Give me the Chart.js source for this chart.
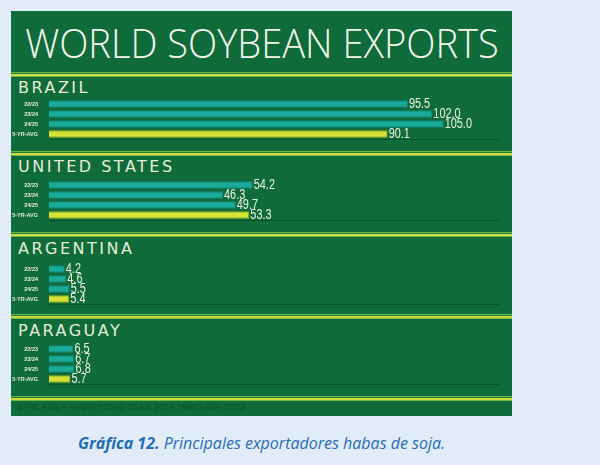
<!DOCTYPE html>
<html lang="en">
<head>
<meta charset="UTF-8">
<title>World Soybean Exports</title>
<script src="https://cdn.jsdelivr.net/npm/chart.js@4.4.0/dist/chart.umd.min.js"></script>
<style>
  body {
    margin: 0;
    width: 600px;
    height: 465px;
    background: #e2ecf8;
    position: relative;
    overflow: hidden;
    font-family: 'DejaVu Sans', sans-serif;
  }
  .panel {
    position: absolute;
    left: 11px; top: 11px;
    width: 501px; height: 405px;
    background: #0f6b3a;
  }
  #title {
    position: absolute;
    left: 262px; top: 16px;
    color: #f4f6ec;
    font-family: 'Open Sans', sans-serif;
    font-size: 41px;
    line-height: 52px;
    font-weight: 300;
    white-space: nowrap;
  }
  .sep {
    position: absolute;
    left: 11px; width: 501px; height: 5px;
    background: linear-gradient(#6cb648 0 1px, #1d7a3a 1px 2px, #cddc3c 2px 4px, #6cb648 4px 5px);
  }
  .country {
    position: absolute;
    left: 18px;
    color: #e6eed8;
    font-size: 16px;
    line-height: 16px;
    letter-spacing: 2.5px;
    white-space: nowrap;
  }
  .note {
    position: absolute;
    left: 18px; top: 402px;
    color: #0a5a2e;
    font: bold 9px 'Liberation Sans', sans-serif;
    white-space: nowrap;
  }
  .caption {
    position: absolute;
    left: 11px; top: 432px;
    width: 501px;
    text-align: center;
    color: #1e6db5;
    font: italic 16px 'Open Sans', sans-serif;
    white-space: nowrap;
  }
  canvas { position: absolute; left: 0; }
</style>
</head>
<body>
  <div class="panel"></div>
  <div id="title">WORLD SOYBEAN EXPORTS</div>
  <div class="note">5-YR AVG = MARKETING YEAR 2019 THROUGH 2023</div>
  <div class="caption"><b>Gráfica 12.</b> Principales exportadores habas de soja.</div>

<script>
// data
const seasons = ['22/23', '23/24', '24/25', '5-YR-AVG'];
const countries = ['BRAZIL', 'UNITED STATES', 'ARGENTINA', 'PARAGUAY'];
const brazil = [95.5, 102.0, 105.0, 90.1];
const unitedStates = [54.2, 46.3, 49.7, 53.3];
const argentina = [4.2, 4.6, 5.5, 5.4];
const paraguay = [6.5, 6.7, 6.8, 5.7];
const seriesByCountry = [brazil, unitedStates, argentina, paraguay];

// layout (page px)
const chartTops = [99, 180, 264, 344];
const labelTops = [80, 159, 241, 323];
const sepTops = [72, 151, 232, 314, 396];

const teal = '#1aaa9b';
const yellow = '#d6e236';

// squeeze the title to the poster's width, centred on the panel
const t = document.getElementById('title');
t.style.transform = 'translateX(-50%) scaleX(' + (474 / t.offsetWidth) + ')';

sepTops.forEach(y => {
    const d = document.createElement('div');
    d.className = 'sep';
    d.style.top = y + 'px';
    document.body.appendChild(d);
});

countries.forEach((name, i) => {
    const d = document.createElement('div');
    d.className = 'country';
    d.style.top = labelTops[i] + 'px';
    d.textContent = name;
    document.body.appendChild(d);
});

// value labels at the end of every bar + baseline under the bars
const valueLabels = {
    id: 'valueLabels',
    beforeDatasetsDraw(chart) {
        const a = chart.chartArea;
        const ctx = chart.ctx;
        ctx.save();
        ctx.strokeStyle = '#0a5028';
        ctx.lineWidth = 1;
        ctx.beginPath();
        ctx.moveTo(a.left, a.bottom + 0.5);
        ctx.lineTo(a.right, a.bottom + 0.5);
        ctx.stroke();
        ctx.restore();
    },
    afterDatasetsDraw(chart) {
        const ctx = chart.ctx;
        const ds = chart.data.datasets[0];
        ctx.save();
        ctx.font = "14px 'Liberation Sans', sans-serif";
        ctx.fillStyle = '#eef2e4';
        ctx.textBaseline = 'middle';
        chart.getDatasetMeta(0).data.forEach((bar, j) => {
            ctx.save();
            ctx.translate(bar.x + 1, bar.y);
            ctx.scale(0.78, 1);
            ctx.fillText(ds.data[j].toFixed(1), 0, 0);
            ctx.restore();
        });
        ctx.restore();
    }
};

seriesByCountry.forEach((values, i) => {
    const canvas = document.createElement('canvas');
    canvas.width = 512;
    canvas.height = 44;
    canvas.style.top = (chartTops[i] - 2) + 'px';
    document.body.appendChild(canvas);

    new Chart(canvas.getContext('2d'), {
        type: 'bar',
        data: {
            labels: seasons,
            datasets: [{
                data: values,
                backgroundColor: seasons.map((s, j) => j === 3 ? yellow : teal),
                borderColor: seasons.map((s, j) => j === 3 ? '#9fb020' : '#12877a'),
                borderWidth: 1,
                barPercentage: 0.74,
                categoryPercentage: 1.0
            }]
        },
        options: {
            indexAxis: 'y',
            responsive: false,
            animation: false,
            layout: { padding: { top: 2, bottom: 2, left: 0, right: 12 } },
            plugins: { legend: { display: false }, tooltip: { enabled: false } },
            scales: {
                x: {
                    display: false,
                    min: 0,
                    max: 120
                },
                y: {
                    afterFit: s => {
                        s.width = 49;
                        s.paddingTop = 0;
                        s.paddingBottom = 0;
                    },
                    grid: { display: false },
                    border: { display: false },
                    ticks: {
                        autoSkip: false,
                        color: '#e8eedc',
                        padding: 3,
                        font: { size: 5.5, weight: 'bold', family: "'Liberation Sans', sans-serif" }
                    }
                }
            }
        },
        plugins: [valueLabels]
    });
});
</script>
</body>
</html>
